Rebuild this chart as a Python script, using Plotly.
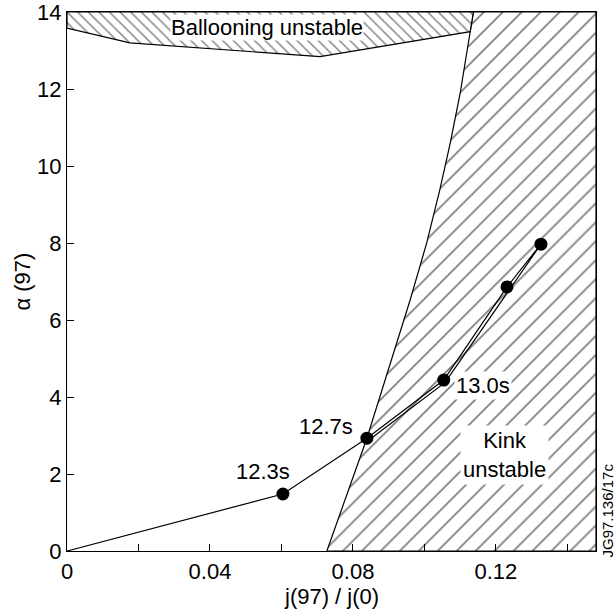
import plotly.graph_objects as go

# Measured trajectory points: j(97)/j(0) against alpha(97)
times = ["12.3s", "12.7s", "13.0s", "", ""]
j_ratio = [0.0604, 0.0839, 0.1054, 0.1231, 0.1326]
alpha = [1.48, 2.93, 4.44, 6.86, 7.97]

# Connecting line: from origin out through the points, then back down
path_x = [0.0, 0.0604, 0.0839, 0.1054, 0.1231, 0.1326, 0.1058, 0.0843]
path_y = [0.0, 1.48, 2.93, 4.44, 6.86, 7.97, 4.38, 2.87]

# Kink stability boundary (left edge of the kink-unstable region)
kink_x = [0.0727, 0.0839, 0.0960, 0.1006, 0.1043, 0.1072, 0.1100, 0.1128, 0.1137]
kink_y = [0.0, 2.93, 6.52, 7.99, 9.38, 10.59, 11.89, 13.49, 14.0]

# Ballooning stability boundary (lower edge of the ballooning-unstable region)
ball_x = [0.0, 0.0176, 0.0708, 0.1128]
ball_y = [13.58, 13.20, 12.84, 13.49]

X_MAX = 0.148
Y_MAX = 14.0

FONT = "Liberation Sans, Arial, sans-serif"

fig = go.Figure()

# Kink-unstable region
fig.add_trace(go.Scatter(
    x=kink_x + [X_MAX, X_MAX, kink_x[0]],
    y=kink_y + [Y_MAX, 0.0, kink_y[0]],
    mode="lines", fill="toself", fillcolor="white",
    fillpattern=dict(shape="/", size=13.4, solidity=0.13,
                     fgcolor="black", bgcolor="white"),
    line=dict(color="black", width=1.2), hoverinfo="skip",
))

# Ballooning-unstable region
fig.add_trace(go.Scatter(
    x=ball_x + [kink_x[-1], 0.0, ball_x[0]],
    y=ball_y + [Y_MAX, Y_MAX, ball_y[0]],
    mode="lines", fill="toself", fillcolor="white",
    fillpattern=dict(shape="\\", size=7.5, solidity=0.19,
                     fgcolor="black", bgcolor="white"),
    line=dict(color="black", width=1.2), hoverinfo="skip",
))

# Trajectory line
fig.add_trace(go.Scatter(
    x=path_x, y=path_y, mode="lines",
    line=dict(color="black", width=1.2), hoverinfo="skip",
))

# Trajectory points
fig.add_trace(go.Scatter(
    x=j_ratio, y=alpha, mode="markers",
    marker=dict(color="black", size=13), hoverinfo="skip",
))

label_font = dict(family=FONT, size=22, color="black")
shifts = [(-20, 23), (-41, 12), (39, -5)]
for t, xv, yv, (dx, dy) in zip(times, j_ratio, alpha, shifts):
    fig.add_annotation(x=xv, y=yv, text=t, showarrow=False, xshift=dx, yshift=dy,
                       font=label_font, bgcolor="white", borderpad=1)

fig.add_annotation(x=0.1225, y=2.5, text="Kink<br>unstable", showarrow=False,
                   font=label_font, bgcolor="white", borderpad=2)
fig.add_annotation(x=0.0560, y=13.6, text="Ballooning unstable", showarrow=False,
                   font=label_font, bgcolor="white", borderpad=0)
fig.add_annotation(xref="paper", yref="paper", x=1.0, y=-0.0167, xanchor="left",
                   yanchor="bottom", xshift=1, text="JG97.136/17c",
                   textangle=-90, showarrow=False,
                   font=dict(family=FONT, size=15, color="black"))

# Axis titles
fig.add_annotation(xref="paper", yref="paper", x=0.5, y=-0.085, yanchor="middle",
                   text="j(97) / j(0)", showarrow=False, font=label_font)
fig.add_annotation(xref="paper", yref="paper", x=-0.085, y=0.5, xanchor="center",
                   text="α (97)", textangle=-90, showarrow=False, font=label_font)

fig.update_layout(
    width=615, height=615,
    margin=dict(l=67, r=19, t=12, b=64),
    paper_bgcolor="white", plot_bgcolor="white",
    showlegend=False,
    font=dict(family=FONT, color="black"),
    xaxis=dict(
        range=[0, X_MAX], showgrid=False, zeroline=False, automargin=False,
        tickvals=[0, 0.04, 0.08, 0.12], ticktext=["0", "0.04", "0.08", "0.12"],
        ticks="inside", ticklen=7, tickcolor="black",
        minor=dict(dtick=0.02, ticks="inside", ticklen=7, tickcolor="black"),
        showline=True, linecolor="black", linewidth=1.2, mirror=True,
        tickfont=dict(family=FONT, size=22, color="black"),
    ),
    yaxis=dict(
        range=[0, Y_MAX * 1.00001], showgrid=False, zeroline=False, automargin=False,
        tickvals=[0, 2, 4, 6, 8, 10, 12, 14],
        ticks="inside", ticklen=7, tickcolor="black",
        showline=True, linecolor="black", linewidth=1.2, mirror=True,
        tickfont=dict(family=FONT, size=22, color="black"),
        ticklabeloverflow="allow",
    ),
)

fig.write_html("out.html")
